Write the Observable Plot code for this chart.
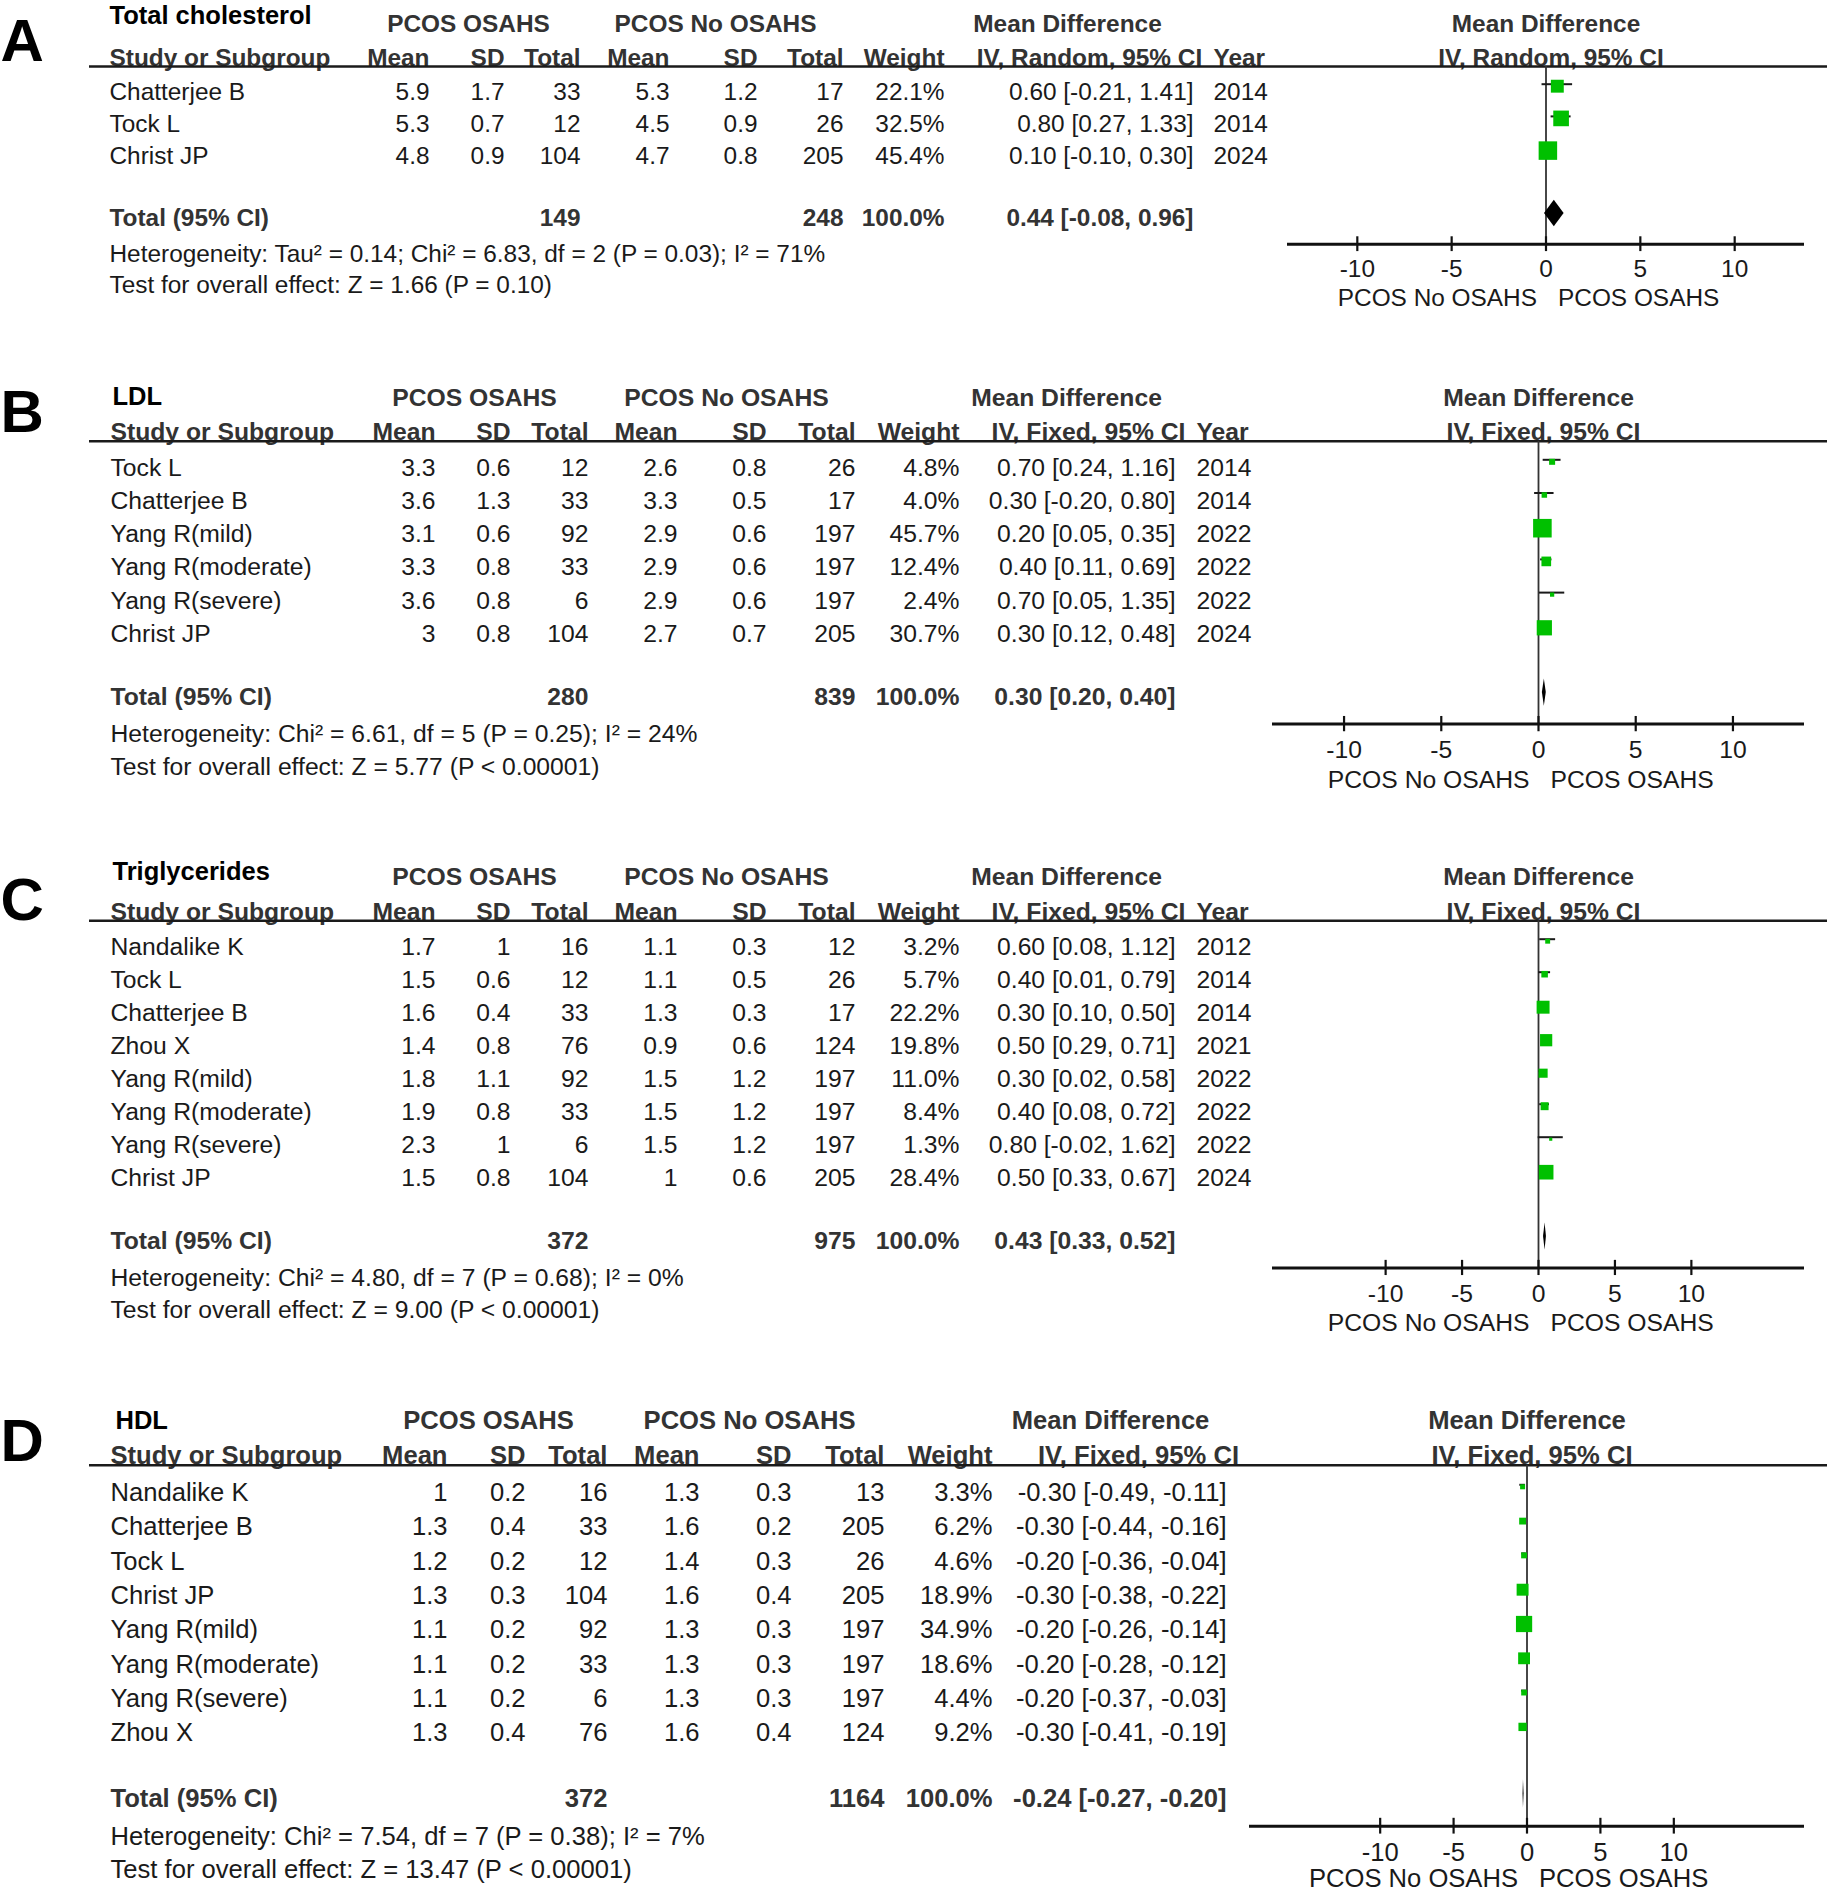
<!DOCTYPE html>
<html><head><meta charset="utf-8">
<script src="https://cdn.jsdelivr.net/npm/d3@7"></script>
<script src="https://cdn.jsdelivr.net/npm/@observablehq/plot@0.6"></script>
<style>
body{margin:0;background:#fff;}
#fig{position:relative;width:1827px;height:1894px;overflow:hidden;background:#fff;}
.panel{position:absolute;left:0;}
</style></head><body><div id="fig"></div>
<script>
// ---------- shared labels ----------
const groupLabels = ["PCOS OSAHS", "PCOS No OSAHS"];
const favourLabels = ["PCOS No OSAHS", "PCOS OSAHS"];
const axisTicks = [-10, -5, 0, 5, 10];

// ---------- A: Total cholesterol ----------
const tcStudies = ["Chatterjee B", "Tock L", "Christ JP"];
const tcMean1 = [5.9, 5.3, 4.8];
const tcSD1 = [1.7, 0.7, 0.9];
const tcN1 = [33, 12, 104];
const tcMean2 = [5.3, 4.5, 4.7];
const tcSD2 = [1.2, 0.9, 0.8];
const tcN2 = [17, 26, 205];
const tcWeight = [22.1, 32.5, 45.4];
const tcMD = [0.60, 0.80, 0.10];
const tcLo = [-0.21, 0.27, -0.10];
const tcHi = [1.41, 1.33, 0.30];
const tcYear = [2014, 2014, 2024];
const tcTotal = [149, 248, 0.44, -0.08, 0.96];
const tcHet = "Heterogeneity: Tau² = 0.14; Chi² = 6.83, df = 2 (P = 0.03); I² = 71%";
const tcTest = "Test for overall effect: Z = 1.66 (P = 0.10)";

// ---------- B: LDL ----------
const ldlStudies = ["Tock L", "Chatterjee B", "Yang R(mild)", "Yang R(moderate)", "Yang R(severe)", "Christ JP"];
const ldlMean1 = [3.3, 3.6, 3.1, 3.3, 3.6, 3];
const ldlSD1 = [0.6, 1.3, 0.6, 0.8, 0.8, 0.8];
const ldlN1 = [12, 33, 92, 33, 6, 104];
const ldlMean2 = [2.6, 3.3, 2.9, 2.9, 2.9, 2.7];
const ldlSD2 = [0.8, 0.5, 0.6, 0.6, 0.6, 0.7];
const ldlN2 = [26, 17, 197, 197, 197, 205];
const ldlWeight = [4.8, 4.0, 45.7, 12.4, 2.4, 30.7];
const ldlMD = [0.70, 0.30, 0.20, 0.40, 0.70, 0.30];
const ldlLo = [0.24, -0.20, 0.05, 0.11, 0.05, 0.12];
const ldlHi = [1.16, 0.80, 0.35, 0.69, 1.35, 0.48];
const ldlYear = [2014, 2014, 2022, 2022, 2022, 2024];
const ldlTotal = [280, 839, 0.30, 0.20, 0.40];
const ldlHet = "Heterogeneity: Chi² = 6.61, df = 5 (P = 0.25); I² = 24%";
const ldlTest = "Test for overall effect: Z = 5.77 (P < 0.00001)";

// ---------- C: Triglycerides ----------
const tgStudies = ["Nandalike K", "Tock L", "Chatterjee B", "Zhou X", "Yang R(mild)", "Yang R(moderate)", "Yang R(severe)", "Christ JP"];
const tgMean1 = [1.7, 1.5, 1.6, 1.4, 1.8, 1.9, 2.3, 1.5];
const tgSD1 = [1, 0.6, 0.4, 0.8, 1.1, 0.8, 1, 0.8];
const tgN1 = [16, 12, 33, 76, 92, 33, 6, 104];
const tgMean2 = [1.1, 1.1, 1.3, 0.9, 1.5, 1.5, 1.5, 1];
const tgSD2 = [0.3, 0.5, 0.3, 0.6, 1.2, 1.2, 1.2, 0.6];
const tgN2 = [12, 26, 17, 124, 197, 197, 197, 205];
const tgWeight = [3.2, 5.7, 22.2, 19.8, 11.0, 8.4, 1.3, 28.4];
const tgMD = [0.60, 0.40, 0.30, 0.50, 0.30, 0.40, 0.80, 0.50];
const tgLo = [0.08, 0.01, 0.10, 0.29, 0.02, 0.08, -0.02, 0.33];
const tgHi = [1.12, 0.79, 0.50, 0.71, 0.58, 0.72, 1.62, 0.67];
const tgYear = [2012, 2014, 2014, 2021, 2022, 2022, 2022, 2024];
const tgTotal = [372, 975, 0.43, 0.33, 0.52];
const tgHet = "Heterogeneity: Chi² = 4.80, df = 7 (P = 0.68); I² = 0%";
const tgTest = "Test for overall effect: Z = 9.00 (P < 0.00001)";

// ---------- D: HDL ----------
const hdlStudies = ["Nandalike K", "Chatterjee B", "Tock L", "Christ JP", "Yang R(mild)", "Yang R(moderate)", "Yang R(severe)", "Zhou X"];
const hdlMean1 = [1, 1.3, 1.2, 1.3, 1.1, 1.1, 1.1, 1.3];
const hdlSD1 = [0.2, 0.4, 0.2, 0.3, 0.2, 0.2, 0.2, 0.4];
const hdlN1 = [16, 33, 12, 104, 92, 33, 6, 76];
const hdlMean2 = [1.3, 1.6, 1.4, 1.6, 1.3, 1.3, 1.3, 1.6];
const hdlSD2 = [0.3, 0.2, 0.3, 0.4, 0.3, 0.3, 0.3, 0.4];
const hdlN2 = [13, 205, 26, 205, 197, 197, 197, 124];
const hdlWeight = [3.3, 6.2, 4.6, 18.9, 34.9, 18.6, 4.4, 9.2];
const hdlMD = [-0.30, -0.30, -0.20, -0.30, -0.20, -0.20, -0.20, -0.30];
const hdlLo = [-0.49, -0.44, -0.36, -0.38, -0.26, -0.28, -0.37, -0.41];
const hdlHi = [-0.11, -0.16, -0.04, -0.22, -0.14, -0.12, -0.03, -0.19];
const hdlTotal = [372, 1164, -0.24, -0.27, -0.20];
const hdlHet = "Heterogeneity: Chi² = 7.54, df = 7 (P = 0.38); I² = 7%";
const hdlTest = "Test for overall effect: Z = 13.47 (P < 0.00001)";

// ---------- layout (positions/styles only) ----------
const FONT = "'Liberation Sans', Arial, Helvetica, sans-serif";
const colsA = {study:109, m1:429, sd1:504, n1:580, m2:669, sd2:757, n2:843, w:944, ci:1193, year:1213, g1:468, g2:715, mdHead:1067, ivHead:1089, lineStart:89, titleX:109};
const colsBC = {study:110, m1:435, sd1:510, n1:588, m2:677, sd2:766, n2:855, w:959, ci:1175, year:1196, g1:474, g2:726, mdHead:1066, ivHead:1088, lineStart:89, titleX:112};
const colsD = {study:110, m1:447, sd1:525, n1:607, m2:699, sd2:791, n2:884, w:992, ci:1226, year:null, g1:488, g2:749, mdHead:1110, ivHead:1138, lineStart:89, titleX:115};

const panels = [
  {letter:"A", title:"Total cholesterol", method:"IV, Random, 95% CI",
   studies:tcStudies, mean1:tcMean1, sd1:tcSD1, n1:tcN1, mean2:tcMean2, sd2:tcSD2, n2:tcN2,
   weight:tcWeight, md:tcMD, lo:tcLo, hi:tcHi, year:tcYear, total:tcTotal, het:tcHet, test:tcTest,
   L:{top:0, height:370, r0:91.7, s:32.2, fs:24.4, xMax:13.7, xRange:[1287,1804], titleRow:-2.36, letterRow:-1.55, favRow:1.68, cols:colsA}},
  {letter:"B", title:"LDL", method:"IV, Fixed, 95% CI",
   studies:ldlStudies, mean1:ldlMean1, sd1:ldlSD1, n1:ldlN1, mean2:ldlMean2, sd2:ldlSD2, n2:ldlN2,
   weight:ldlWeight, md:ldlMD, lo:ldlLo, hi:ldlHi, year:ldlYear, total:ldlTotal, het:ldlHet, test:ldlTest,
   L:{top:370, height:470, r0:97.3, s:33.2, fs:24.7, xMax:13.68, xRange:[1272,1804], titleRow:-2.13, letterRow:-1.67, favRow:1.68, cols:colsBC}},
  {letter:"C", title:"Triglycerides", method:"IV, Fixed, 95% CI",
   studies:tgStudies, mean1:tgMean1, sd1:tgSD1, n1:tgN1, mean2:tgMean2, sd2:tgSD2, n2:tgN2,
   weight:tgWeight, md:tgMD, lo:tgLo, hi:tgHi, year:tgYear, total:tgTotal, het:tgHet, test:tgTest,
   L:{top:840, height:540, r0:106.7, s:33.0, fs:24.7, xMax:17.4, xRange:[1272,1804], titleRow:-2.27, letterRow:-1.42, favRow:1.68, cols:colsBC}},
  {letter:"D", title:"HDL", method:"IV, Fixed, 95% CI",
   studies:hdlStudies, mean1:hdlMean1, sd1:hdlSD1, n1:hdlN1, mean2:hdlMean2, sd2:hdlSD2, n2:hdlN2,
   weight:hdlWeight, md:hdlMD, lo:hdlLo, hi:hdlHi, year:null, total:hdlTotal, het:hdlHet, test:hdlTest,
   L:{top:1380, height:514, r0:112.3, s:34.3, fs:25.6, xMax:18.9, xRange:[1249,1804], titleRow:-2.11, letterRow:-1.48, favRow:1.52, cols:colsD}}
];

const f2 = v => v.toFixed(2);
const ciText = (md, lo, hi) => `${f2(md)} [${f2(lo)}, ${f2(hi)}]`;

function buildPanel(p) {
  const L = p.L, c = L.cols, fs = L.fs;
  const n = p.studies.length;
  const rows = d3.range(n).map(i => ({
    row: i, study: p.studies[i], m1: p.mean1[i], sd1: p.sd1[i], n1: p.n1[i],
    m2: p.mean2[i], sd2: p.sd2[i], n2: p.n2[i], w: p.weight[i],
    md: p.md[i], lo: p.lo[i], hi: p.hi[i], year: p.year ? p.year[i] : null
  }));
  const H1 = -2.11, H2 = -1.07, RULE = -0.8;
  const TOT = n + 0.92, HET = n + 2.03, TEST = n + 3.0, AX = n + 1.72;
  const dark = "#1a1a1a", boldFill = "#333";
  const T = (data, o) => Plot.text(data, {frameAnchor: "left", fontSize: fs, fill: dark, ...o});
  const one = (str, row, dx, anchor, extra = {}) =>
    T([str], {y: () => row, text: d => d, dx, textAnchor: anchor, ...extra});
  const B = {fontWeight: "bold", fill: boldFill};

  const [tN1, tN2, tMD, tLo, tHi] = p.total;

  const header2 = [
    ["Study or Subgroup", c.study, "start"], ["Mean", c.m1, "end"], ["SD", c.sd1, "end"],
    ["Total", c.n1, "end"], ["Mean", c.m2, "end"], ["SD", c.sd2, "end"], ["Total", c.n2, "end"],
    ["Weight", c.w, "end"], [p.method, c.ivHead, "middle"]
  ];
  if (c.year != null) header2.push(["Year", c.year, "start"]);

  const colMarks = [
    ["study", c.study, "start", d => d.study],
    ["m1", c.m1, "end", d => String(d.m1)],
    ["sd1", c.sd1, "end", d => String(d.sd1)],
    ["n1", c.n1, "end", d => String(d.n1)],
    ["m2", c.m2, "end", d => String(d.m2)],
    ["sd2", c.sd2, "end", d => String(d.sd2)],
    ["n2", c.n2, "end", d => String(d.n2)],
    ["w", c.w, "end", d => d.w.toFixed(1) + "%"],
    ["ci", c.ci, "end", d => ciText(d.md, d.lo, d.hi)]
  ];
  if (c.year != null) colMarks.push(["year", c.year, "start", d => String(d.year)]);

  const dh = 0.41;
  const diamond = [
    {x: tLo, y1: TOT, y2: TOT},
    {x: tMD, y1: TOT - dh, y2: TOT + dh},
    {x: tHi, y1: TOT, y2: TOT}
  ];

  const marks = [
    // panel letter and title
    Plot.text([p.letter], {frameAnchor: "left", y: () => L.letterRow, text: d => d, fontSize: 60, fontWeight: "bold", fill: "#000", textAnchor: "start"}),
    Plot.text([p.title], {frameAnchor: "left", y: () => L.titleRow, text: d => d, dx: c.titleX, fontSize: 25.5, fontWeight: "bold", fill: "#000", textAnchor: "start"}),
    // header row 1
    one(groupLabels[0], H1, c.g1, "middle", B),
    one(groupLabels[1], H1, c.g2, "middle", B),
    one("Mean Difference", H1, c.mdHead, "middle", B),
    Plot.text(["Mean Difference"], {x: () => 0, y: () => H1, text: d => d, fontSize: fs, ...B}),
    // header row 2
    ...header2.map(([s, dx, a]) => one(s, H2, dx, a, B)),
    Plot.text([p.method], {x: () => 0, y: () => H2, text: d => d, dx: 5, fontSize: fs, ...B}),
    // header rule
    Plot.ruleY([RULE], {y: d => d, insetLeft: c.lineStart, stroke: dark, strokeWidth: 2.5}),
    // study rows
    ...colMarks.map(([k, dx, a, fn]) => T(rows, {y: "row", text: fn, dx, textAnchor: a})),
    // total row
    one("Total (95% CI)", TOT, c.study, "start", B),
    one(String(tN1), TOT, c.n1, "end", B),
    one(String(tN2), TOT, c.n2, "end", B),
    one("100.0%", TOT, c.w, "end", B),
    one(ciText(tMD, tLo, tHi), TOT, c.ci, "end", B),
    one(p.het, HET, c.study, "start"),
    one(p.test, TEST, c.study, "start"),
    // forest: zero line
    Plot.ruleX([0], {x: d => d, y1: RULE, y2: AX, stroke: "#333", strokeWidth: 1.8}),
    // axis
    Plot.ruleY([AX], {y: d => d, x1: -L.xMax, x2: L.xMax, stroke: "#111", strokeWidth: 3}),
    Plot.ruleX(axisTicks, {x: d => d, y1: AX - 0.23, y2: AX + 0.23, stroke: "#111", strokeWidth: 2.2}),
    Plot.text(axisTicks, {x: d => d, y: AX + 0.78, text: d => String(d), fontSize: fs, fill: dark}),
    Plot.text([favourLabels[0]], {x: () => 0, y: () => AX + L.favRow, text: d => d, textAnchor: "end", dx: -9, fontSize: fs, fill: dark}),
    Plot.text([favourLabels[1]], {x: () => 0, y: () => AX + L.favRow, text: d => d, textAnchor: "start", dx: 12, fontSize: fs, fill: dark}),
    // whiskers and squares
    Plot.ruleY(rows, {y: "row", x1: "lo", x2: "hi", dy: -8, stroke: dark, strokeWidth: 2}),
    Plot.dot(rows, {x: "md", y: "row", r: "w", symbol: "square", fill: "#00c000", dy: -6}),
    // pooled diamond
    Plot.areaY(diamond, {x: "x", y1: "y1", y2: "y2", fill: "#000", dy: -5})
  ];

  return Plot.plot({
    width: 1827,
    height: L.height,
    marginTop: 0, marginBottom: 0, marginLeft: 0, marginRight: 0,
    style: {fontFamily: FONT, background: "transparent", overflow: "visible"},
    x: {domain: [-L.xMax, L.xMax], range: L.xRange, axis: null},
    y: {domain: [0, 1], range: [L.r0, L.r0 + L.s], axis: null},
    r: {type: "sqrt", domain: [0, 100], range: [0, 15.5]},
    marks
  });
}

const fig = document.getElementById("fig");
for (const p of panels) {
  const div = document.createElement("div");
  div.className = "panel";
  div.style.top = p.L.top + "px";
  div.appendChild(buildPanel(p));
  fig.appendChild(div);
}
</script>
</body></html>
